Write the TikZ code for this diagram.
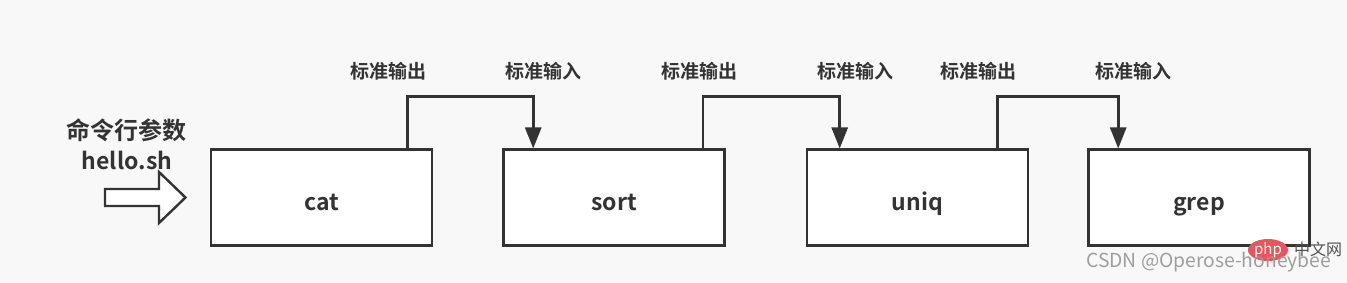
\documentclass[tikz,border=0pt]{standalone}
\usepackage{fontspec}
\newfontfamily\cjk{Noto Sans CJK SC}
\newfontfamily\cjkb{Noto Sans CJK SC Bold}
\usetikzlibrary{arrows.meta,shapes.geometric}
\definecolor{ink}{HTML}{333333}
\definecolor{bg}{HTML}{F8F8F8}
\definecolor{wm}{HTML}{9A9A9A}
\definecolor{phpred}{HTML}{E8555A}
\tikzset{
  procbox/.style={draw=ink, line width=2.6pt, fill=white, minimum width=221pt, minimum height=96pt, inner sep=0pt,
    text height=25pt, text depth=0pt, font=\cjkb\fontsize{23}{26}\selectfont, text=ink},
  conn/.style={draw=ink, line width=2.6pt, -{Triangle[length=21pt,width=16pt]}},
  lbl/.style={font=\cjkb\fontsize{19}{21}\selectfont, text=ink, inner sep=0pt},
}
\begin{document}
\begin{tikzpicture}[x=1pt,y=-1pt]
\fill[bg] (0,0) rectangle (1347,283);
\useasboundingbox (0,0) rectangle (1347,283);
\node[procbox] (cat)  at (321.5,197.8) {cat};
\node[procbox] (sort) at (614,197.8) {sort};
\node[procbox] (uniq) at (917.5,197.8) {uniq};
\node[procbox] (grep) at (1199,197.8) {grep};
% connectors
\draw[conn] ([xshift=-26pt]cat.north east) -- ++(0,-52) -| ([xshift=31pt]sort.north west);
\draw[conn] ([xshift=-23pt]sort.north east) -- ++(0,-52) -| ([xshift=34pt]uniq.north west);
\draw[conn] ([xshift=-32pt]uniq.north east) -- ++(0,-52) -| ([xshift=31pt]grep.north west);
% labels
\node[lbl] (o1) at (388,71) {标准输出};
\node[lbl] (i1) at (543,71) {标准输入};
\node[lbl] (o2) at (699,71) {标准输出};
\node[lbl] (i2) at (855,71) {标准输入};
\node[lbl] (o3) at (978,71) {标准输出};
\node[lbl] (i3) at (1133,71) {标准输入};
% input
\node[font=\cjkb\fontsize{24}{26}\selectfont, text=ink, inner sep=0pt] (arg) at (126.5,130) {命令行参数};
\node[font=\cjkb\fontsize{23}{26}\selectfont, text=ink, inner sep=0pt] (hs) at (127,160) {hello.sh};
\draw[draw=ink, line width=2.4pt, fill=white, line join=miter]
  (105,189) -- (159,189) -- (159,172) -- (185.5,197.5) -- (159,223) -- (159,206) -- (105,206) -- cycle;
% watermark
\node[fill=phpred, ellipse, minimum width=40pt, minimum height=22pt, inner sep=0pt, text=white,
  font=\cjk\fontsize{15}{16}\selectfont] (php) at (1268,250) {php};
\node[font=\cjk\fontsize{16}{18}\selectfont, text=ink!85, inner sep=0pt, anchor=west] (cn) at (1294,249) {中文网};
\node[font=\cjk\fontsize{19.3}{22}\selectfont, text=wm, inner sep=0pt, anchor=west, opacity=0.95] (csdn) at (1086,262) {CSDN @Operose-honeybee};
\end{tikzpicture}
\end{document}
